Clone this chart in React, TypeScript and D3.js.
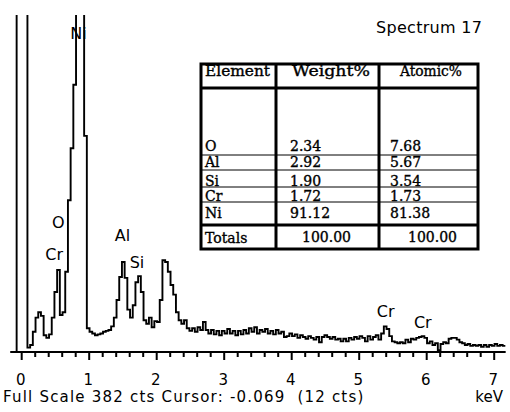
import React from "react";
import * as d3 from "d3";

// EDS spectrum, one count per 0.04 keV channel
const START_KEV = -0.115;
const CHANNEL_KEV = 0.04;
const COUNTS = [
  0,
  2100, 3400, 2800, 1500,
  5, 8, 23, 39, 45, 41,
  19, 16, 20, 39, 68, 93,
  42, 45, 91, 172, 231, 303,
  600, 650, 520, 245,
  27, 23, 21, 19, 20,
  21, 23, 24, 25, 29,
  39, 59, 85, 102, 84,
  48, 39, 53, 79, 86,
  68, 36, 32, 39, 28,
  35, 34, 59, 104, 102,
  91, 76, 65, 45, 36,
  32, 36, 27, 24, 27,
  23, 28, 25, 34, 25,
  21, 25, 20, 24, 19,
  24, 21, 26, 21, 24,
  19, 24, 20, 25, 21,
  27, 23, 28, 21, 25,
  23, 26, 21, 24, 20,
  25, 21, 23, 17, 18,
  21, 18, 20, 16, 19,
  17, 15, 18, 16, 14,
  17, 11, 17, 19, 17,
  15, 17, 14, 15, 12,
  15, 12, 16, 14, 17,
  15, 18, 16, 12, 18,
  14, 17, 19, 14, 21,
  29, 26, 18, 12, 11,
  10, 11, 10, 14, 11,
  15, 14, 16, 17, 18,
  16, 10, 12, 8, 10,
  2, 9, 11, 10, 15,
  16, 16, 14, 11, 10,
  8, 9, 7, 8, 7,
  8, 6, 8, 6, 8,
  7, 9, 7, 8, 7,
];

const FULL_SCALE = 382;
const TICK_LABELS = ["0", "1", "2", "3", "4", "5", "6", "7"];

// peak labels: element, energy (keV), counts position of label
const PEAK_LABELS = [
  { text: "Ni", kev: 0.72, cts: 355 },
  { text: "O", kev: 0.45, cts: 140 },
  { text: "Cr", kev: 0.35, cts: 104 },
  { text: "Al", kev: 1.38, cts: 126 },
  { text: "Si", kev: 1.6, cts: 95 },
  { text: "Cr", kev: 5.26, cts: 40 },
  { text: "Cr", kev: 5.81, cts: 27 },
];

// quant table
const ELEMENTS = ["O", "Al", "Si", "Cr", "Ni"];
const WEIGHT = ["2.34", "2.92", "1.90", "1.72", "91.12"];
const ATOMIC = ["7.68", "5.67", "3.54", "1.73", "81.38"];
const TOTALS = ["100.00", "100.00"];

export default function App() {
  const x = d3.scaleLinear().domain([0, 7]).range([21.7, 494.2]);
  const y = d3.scaleLinear().domain([0, FULL_SCALE]).range([352, 15]);

  const pts: [number, number][] = COUNTS.map((c, i) => [START_KEV + i * CHANNEL_KEV, c]);
  pts.push([START_KEV + COUNTS.length * CHANNEL_KEV, COUNTS[COUNTS.length - 1]]);

  const line = d3
    .line<[number, number]>()
    .x((d) => x(d[0]))
    .y((d) => y(d[1]))
    .curve(d3.curveStepAfter);

  const minor = d3.range(0, 7.01, 0.2);
  const sans = "DejaVu Sans";
  const serif = "DejaVu Serif";

  // table geometry
  const tL = 201, tR = 478, tT = 64, tB = 249;
  const c1 = 276, c2 = 379;
  const rowBase = [151, 167, 186, 201, 218];
  const thin = [155, 170, 187, 202];

  return (
    <svg
      width={510}
      height={412}
      style={{ position: "absolute", left: 0, top: 0, background: "#fff" }}
    >
      <defs>
        <clipPath id="plot">
          <rect x={0} y={15} width={510} height={340} />
        </clipPath>
      </defs>

      {/* spectrum */}
      <path
        d={line(pts) || ""}
        fill="none"
        stroke="#000"
        strokeWidth={1.9}
        clipPath="url(#plot)"
      />

      {/* axis */}
      <line x1={x(-0.17)} x2={x(7.17)} y1={352} y2={352} stroke="#000" strokeWidth={2} />
      {minor.map((v, i) => {
        const major = i % 5 === 0;
        return (
          <line
            key={i}
            x1={x(v)}
            x2={x(v)}
            y1={352}
            y2={major ? 360 : 357}
            stroke="#000"
            strokeWidth={2}
          />
        );
      })}
      {TICK_LABELS.map((t, i) => (
        <text
          key={t}
          x={x(i) - 1}
          y={385}
          textAnchor="middle"
          fontFamily={sans}
          fontSize={15}
          fill="#000"
        >
          {t}
        </text>
      ))}

      {/* peak labels */}
      {PEAK_LABELS.map((p, i) => (
        <text
          key={i}
          x={x(p.kev)}
          y={y(p.cts)}
          fontFamily={sans}
          fontSize={16}
          fill="#000"
        >
          {p.text}
        </text>
      ))}

      <text x={376} y={33} fontFamily={sans} fontSize={16} letterSpacing={0.3} fill="#000">
        Spectrum 17
      </text>

      <text
        x={3}
        y={402}
        fontFamily={sans}
        fontSize={15}
        letterSpacing={1.2}
        fill="#000"
        style={{ whiteSpace: "pre" }}
      >
        {"Full Scale " + FULL_SCALE + " cts Cursor: -0.069  (12 cts)"}
      </text>
      <text x={503} y={402} textAnchor="end" fontFamily={sans} fontSize={15} fill="#000">
        keV
      </text>

      {/* table */}
      <rect x={tL} y={tT} width={tR - tL} height={tB - tT} fill="#fff" stroke="#000" strokeWidth={3} />
      <line x1={tL} x2={tR} y1={88} y2={88} stroke="#000" strokeWidth={3} />
      <line x1={tL} x2={tR} y1={225} y2={225} stroke="#000" strokeWidth={3} />
      {thin.map((v) => (
        <line key={v} x1={tL} x2={tR} y1={v} y2={v} stroke="#000" strokeWidth={1} />
      ))}
      <line x1={c1} x2={c1} y1={tT} y2={tB} stroke="#000" strokeWidth={3} />
      <line x1={c2} x2={c2} y1={tT} y2={tB} stroke="#000" strokeWidth={3} />

      <g fontFamily={serif} fontSize={14} fill="#000" stroke="#000" strokeWidth={0.35}>
        <text x={205} y={76} textLength={65} lengthAdjust="spacingAndGlyphs">Element</text>
        <text x={292} y={76} textLength={78} lengthAdjust="spacingAndGlyphs">Weight%</text>
        <text x={400} y={76} textLength={62} lengthAdjust="spacingAndGlyphs">Atomic%</text>
        {ELEMENTS.map((e, i) => (
          <text key={e} x={205} y={rowBase[i]}>{e}</text>
        ))}
        {WEIGHT.map((w, i) => (
          <text key={i} x={290} y={rowBase[i]}>{w}</text>
        ))}
        {ATOMIC.map((a, i) => (
          <text key={i} x={390} y={rowBase[i]}>{a}</text>
        ))}
        <text x={205} y={243}>Totals</text>
        <text x={302} y={242}>{TOTALS[0]}</text>
        <text x={408} y={242}>{TOTALS[1]}</text>
      </g>
    </svg>
  );
}
